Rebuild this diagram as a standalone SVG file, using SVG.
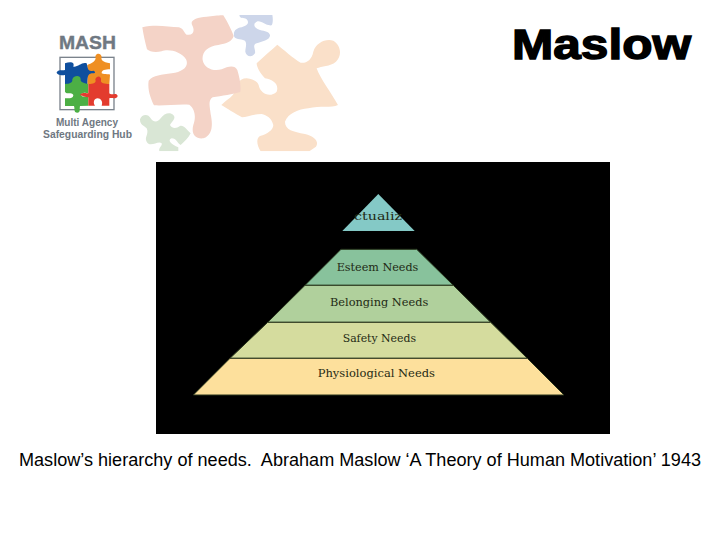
<svg xmlns="http://www.w3.org/2000/svg" width="720" height="540" viewBox="0 0 720 540">
<style>
.lbl{font-family:"DejaVu Serif","Liberation Serif",serif;font-size:11.5px;fill:#1f2a14;text-anchor:start}
.band{stroke:#26331a;stroke-width:1}
.logo{font-family:"Liberation Sans",Arial,sans-serif;font-weight:bold;fill:#6f7882}
</style>
<defs><clipPath id="pz"><rect x="300" y="15" width="700" height="409"/></clipPath></defs>
<rect width="720" height="540" fill="#fff"/>
<g id="puzzle"><g transform="translate(30 10) scale(.3333)">
<g clip-path="url(#pz)">
<path fill="#fae0c9" d="M742 104C760 118 790 145 812 158C830 160 845 150 850 125C858 100 885 85 910 92C932 105 938 135 918 155C900 170 875 168 860 175C870 205 905 250 924 285C905 295 870 285 835 295C805 298 775 310 765 335C765 360 790 365 825 372C855 380 868 395 858 410L838 424L692 424C680 405 678 385 690 378C712 372 730 360 730 345C725 325 710 315 695 312C670 312 650 322 636 322C615 310 590 295 574 285C590 270 605 262 612 250C622 225 625 205 650 205C672 208 682 215 686 225C690 250 720 265 740 245C748 222 730 210 705 205C690 190 680 170 680 160C700 140 725 120 742 104Z"/>
<path fill="#f4d3c7" d="M337 52C375 42 415 50 447 52C462 56 462 70 470 74C490 78 496 62 486 44C480 30 500 22 530 20C550 18 575 14 580 16C592 35 605 60 611 78C606 95 590 100 565 105C535 108 515 125 518 150C522 175 550 185 575 178C595 168 615 165 622 180C628 200 634 225 631 246C610 252 575 258 548 262C533 272 540 290 542 312C548 340 550 375 520 385C495 388 483 370 490 345C497 325 498 300 478 284C440 282 405 288 372 286C362 265 352 240 356 212C370 195 395 195 425 190C460 185 478 168 468 148C455 125 415 115 395 124C375 128 358 125 351 118C345 95 340 72 337 52Z"/>
<path fill="#cdd6ea" d="M628 14L727 14C730 30 728 42 725 46C705 48 695 30 680 35C668 42 672 55 690 60C705 64 718 65 720 75C722 90 695 95 680 100C665 105 678 118 675 130C665 145 648 138 646 125C646 112 652 102 645 92C630 85 615 90 612 78C610 60 620 55 635 52C650 48 660 40 650 28C640 20 630 30 628 14Z"/>
<path fill="#d9e6d5" d="M330 328C335 312 355 310 362 325C372 340 385 335 392 325C402 310 420 305 430 315C440 325 425 335 420 345C428 358 440 355 450 348C462 345 470 360 482 370C475 385 462 395 452 405C440 398 440 385 425 385C410 390 425 405 445 412L445 424L388 424C385 412 398 408 395 400C385 390 360 415 350 395C342 382 358 372 350 355C340 345 330 345 330 328Z"/>
</g>
<rect x="90" y="142" width="162" height="157" fill="none" stroke="#7b838c" stroke-width="4"/>
<path fill="#ef8f23" d="M172 165C185 160 195 155 197 145C192 130 212 125 215 140C212 150 218 155 240 160L240 178C225 178 215 180 215 190C225 195 240 190 240 195L238 222L172 222Z"/>
<path fill="#0f4f9e" d="M105 160C120 155 135 155 130 170C145 172 155 155 170 160C175 178 172 185 190 182C197 184 197 190 190 190C175 190 172 195 172 222L152 222C150 205 135 205 127 222L105 222L105 195C95 198 80 195 80 187C85 178 95 182 105 180Z"/>
<path fill="#4caf45" d="M105 222C120 222 128 218 127 208C132 195 152 195 152 208C150 218 165 220 175 222L175 250C165 247 150 248 155 258C165 262 175 258 175 262L175 287L150 288C148 298 152 308 142 308C130 308 135 295 132 288L105 288L105 265C120 265 130 265 130 255C125 245 110 255 105 245Z"/>
<path fill="#e33b2e" d="M175 222C190 222 200 220 196 208C200 195 215 198 213 210C210 220 225 222 238 222L238 250C245 258 260 245 263 258C260 270 245 262 238 265L238 287L215 287C220 275 212 265 203 265C192 265 188 278 195 287L175 287L175 262C165 262 160 258 150 255C155 245 170 250 175 250Z"/>
</g>
<text class="logo" x="59" y="48.5" font-size="19" textLength="57" lengthAdjust="spacingAndGlyphs" stroke="#6f7882" stroke-width=".4">MASH</text>
<text class="logo" x="56" y="126" font-size="10.5" textLength="62" lengthAdjust="spacingAndGlyphs">Multi Agency</text>
<text class="logo" x="43" y="138" font-size="10.5" textLength="89" lengthAdjust="spacingAndGlyphs">Safeguarding Hub</text>
</g>
<text id="title" x="512" y="59" font-family="'Liberation Sans',Arial,sans-serif" font-weight="bold" font-size="42" textLength="179" lengthAdjust="spacingAndGlyphs" fill="#000" stroke="#000" stroke-width="1.4">Maslow</text>
<rect x="156" y="162" width="454" height="272" fill="#000"/>
<g id="connectors"></g>
<g id="selfactualization">
<polygon points="378.3,194 414.7,231 342.3,231" fill="#84c9c6"/>
<text class="lbl" x="354" y="219.5" textLength="48" lengthAdjust="spacingAndGlyphs">ctualiz</text>
</g>
<g id="esteem">
<polygon class="band" points="341,249.3 416.7,249.3 453.3,285.3 305,285.3" fill="#88c29c"/>
<text class="lbl" x="336.7" y="270.5" textLength="81.6" lengthAdjust="spacingAndGlyphs">Esteem Needs</text>
</g>
<g id="belonging">
<polygon class="band" points="305,285.3 453.3,285.3 490.7,322.3 267.7,322.3" fill="#b0d09c"/>
<text class="lbl" x="330" y="306.2" textLength="98.3" lengthAdjust="spacingAndGlyphs">Belonging Needs</text>
</g>
<g id="safety">
<polygon class="band" points="267.7,322.3 490.7,322.3 527.3,358.3 230,358.3" fill="#d5dc9e"/>
<text class="lbl" x="342.7" y="341.5" textLength="73.3" lengthAdjust="spacingAndGlyphs">Safety Needs</text>
</g>
<g id="physiological">
<polygon class="band" points="230,358.3 527.3,358.3 564,395 193.3,395" fill="#fde09c"/>
<text class="lbl" x="317.7" y="377.2" textLength="117.3" lengthAdjust="spacingAndGlyphs">Physiological Needs</text>
</g>
<text id="caption" x="19" y="466" xml:space="preserve" font-family="'Liberation Sans',Arial,sans-serif" font-size="17.5" textLength="682" lengthAdjust="spacingAndGlyphs" fill="#000">Maslow’s hierarchy of needs.  Abraham Maslow ‘A Theory of Human Motivation’ 1943</text>
</svg>
